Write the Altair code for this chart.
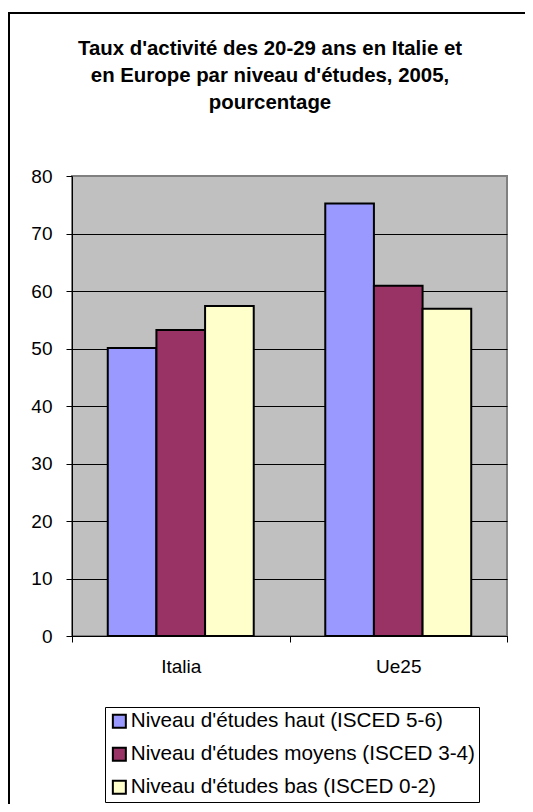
import altair as alt
import pandas as pd

pays = ["Italia", "Ue25"]
niveaux = [
    "Niveau d'études haut (ISCED 5-6)",
    "Niveau d'études moyens (ISCED 3-4)",
    "Niveau d'études bas (ISCED 0-2)",
]
valeurs_italia = [50.1, 53.2, 57.4]
valeurs_ue25 = [75.2, 60.9, 56.9]
couleurs = ["#9999FF", "#993366", "#FFFFCC"]
y_ticks = [0, 10, 20, 30, 40, 50, 60, 70, 80]
title_lines = [
    "Taux d'activité des 20-29 ans en Italie et",
    "en Europe par niveau d'études, 2005,",
    "pourcentage",
]

rows = []
for p, vals in zip(pays, [valeurs_italia, valeurs_ue25]):
    for n, v in zip(niveaux, vals):
        rows.append({"pays": p, "niveau": n, "valeur": v})
df = pd.DataFrame(rows)

FONT = "Liberation Sans"

frame = alt.Chart(alt.Data(values=[{"k": 1}])).mark_rect(
    fillOpacity=0, stroke="black", strokeWidth=2
).encode(
    x=alt.value(-63), x2=alt.value(700), y=alt.value(-163), y2=alt.value(1000)
)

bars = alt.Chart(df).mark_bar(stroke="black", strokeWidth=2).encode(
    x=alt.X(
        "pays:N", sort=pays, title=None,
        scale=alt.Scale(paddingInner=0, paddingOuter=0),
        axis=alt.Axis(
            labelAngle=0, tickBand="extent", tickSize=6, labelPadding=15,
            domainColor="black", tickColor="black", domainWidth=1,
            labelFontSize=19, labelFont=FONT, labelColor="black", grid=False,
        ),
    ),
    xOffset=alt.XOffset(
        "niveau:N", sort=niveaux,
        scale=alt.Scale(paddingOuter=0.735, paddingInner=0),
    ),
    y=alt.Y(
        "valeur:Q", title=None,
        scale=alt.Scale(domain=[0, 80], nice=False),
        axis=alt.Axis(
            values=y_ticks, grid=True,
            gridColor={"condition": {"test": "datum.value === 80", "value": "#808080"}, "value": "black"},
            gridWidth=1, tickSize=6, labelPadding=14, domainColor="black",
            tickColor="black", labelFontSize=19, labelFont=FONT, labelColor="black",
        ),
    ),
    color=alt.Color(
        "niveau:N", sort=niveaux,
        scale=alt.Scale(domain=niveaux, range=couleurs),
        legend=alt.Legend(
            orient="none", legendX=33, legendY=531, title=None,
            symbolType="square", symbolSize=169, symbolStrokeColor="black",
            symbolStrokeWidth=2, symbolOpacity=1,
            labelFontSize=20.7, labelFont=FONT, labelColor="black", labelLimit=600,
            strokeColor="black", fillColor="white", padding=4, rowPadding=11,
            labelOffset=1,
        ),
    ),
)

chart = alt.layer(frame, bars).properties(
    width=435,
    height=460,
    autosize=alt.AutoSizeParams(type="none"),
    padding={"left": 64, "top": 168, "right": 18, "bottom": 168},
    title=alt.TitleParams(
        text=title_lines, font=FONT, fontSize=20.4, fontWeight="bold",
        anchor="middle", dx=-19.5, offset=-101, lineHeight=27, color="black",
    ),
).configure(background="white").configure_view(
    fill="#C0C0C0", stroke="#808080", strokeWidth=2
)

chart.save("out.html", embed_options={"renderer": "svg", "actions": False})
